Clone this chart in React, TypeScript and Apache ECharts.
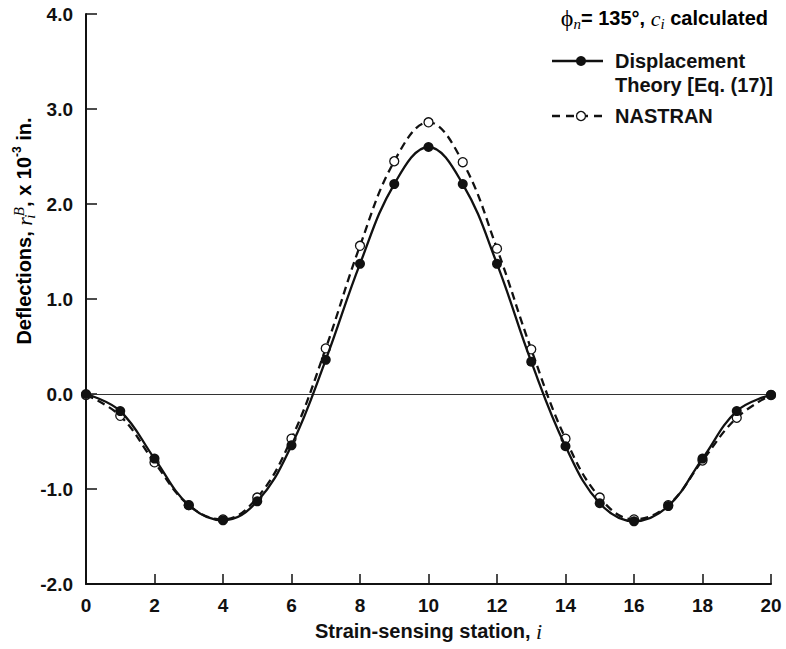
import React, { useEffect, useRef } from "react";
import * as echarts from "echarts";

const stations = [0, 1, 2, 3, 4, 5, 6, 7, 8, 9, 10, 11, 12, 13, 14, 15, 16, 17, 18, 19, 20];
const displacementTheory = [0.0, -0.18, -0.68, -1.17, -1.33, -1.13, -0.54, 0.36, 1.37, 2.21, 2.6, 2.21, 1.37, 0.34, -0.55, -1.15, -1.34, -1.18, -0.68, -0.18, -0.01];
const nastran = [-0.01, -0.23, -0.72, -1.17, -1.32, -1.09, -0.47, 0.48, 1.56, 2.45, 2.86, 2.44, 1.53, 0.47, -0.47, -1.09, -1.32, -1.17, -0.7, -0.25, -0.01];

const xTicks = { min: 0, max: 20, interval: 2 };
const yTicks = { min: -2, max: 4, interval: 1 };

const SANS = "'Liberation Sans', Arial, Helvetica, sans-serif";
const SERIF = "'Liberation Serif', 'Times New Roman', serif";
const INK = "#111";

export default function App() {
  const ref = useRef<HTMLDivElement>(null);

  useEffect(() => {
    document.body.style.margin = "0";
    if (!ref.current) return;
    const chart = echarts.init(ref.current, undefined, { renderer: "svg" });

    const bold = { fontFamily: SANS, fontWeight: "bold", fontSize: 20, color: INK, lineHeight: 26 };
    const ital = { fontFamily: SERIF, fontStyle: "italic", fontSize: 22, color: INK, lineHeight: 26 };
    const subI = { fontFamily: SERIF, fontStyle: "italic", fontSize: 15, color: INK, lineHeight: 15, verticalAlign: "bottom" };
    const supI = { fontFamily: SERIF, fontStyle: "italic", fontSize: 15, color: INK, lineHeight: 15, verticalAlign: "top" };
    const supB = { fontFamily: SANS, fontWeight: "bold", fontSize: 12, color: INK, lineHeight: 12, verticalAlign: "top" };

    const option: any = {
      animation: false,
      backgroundColor: "#fff",
      grid: { left: 86, right: 15, top: 14, bottom: 65, containLabel: false },
      xAxis: {
        type: "value",
        min: xTicks.min,
        max: xTicks.max,
        interval: xTicks.interval,
        name: "{b|Strain-sensing station, }{it|i}",
        nameLocation: "middle",
        nameGap: 34,
        nameTextStyle: { rich: { b: bold, it: ital } },
        axisLine: { show: true, onZero: false, lineStyle: { color: INK, width: 2 } },
        axisTick: { show: true, inside: true, length: 10, lineStyle: { color: INK, width: 1.5 } },
        axisLabel: { fontFamily: SANS, fontWeight: "bold", fontSize: 19, color: INK, margin: 12 },
        splitLine: { show: false },
      },
      yAxis: {
        type: "value",
        min: yTicks.min,
        max: yTicks.max,
        interval: yTicks.interval,
        axisLine: { show: true, onZero: false, lineStyle: { color: INK, width: 2 } },
        axisTick: { show: true, inside: true, length: 11, lineStyle: { color: INK, width: 1.5 } },
        axisLabel: {
          fontFamily: SANS,
          fontWeight: "bold",
          fontSize: 19,
          color: INK,
          margin: 13,
          formatter: (v: number) => v.toFixed(1),
        },
        splitLine: { show: false },
      },
      graphic: [
        {
          type: "text",
          x: 24,
          y: 231,
          rotation: Math.PI / 2,
          style: {
            text: "{b|Deflections, }{it|r}{sub|i}{sup|B}{b|, x 10}{sup2|-3}{b| in.}",
            align: "center",
            verticalAlign: "middle",
            rich: {
              b: bold,
              it: ital,
              sub: { ...subI, width: 1 },
              sup: supI,
              sup2: supB,
            },
          },
        },
        {
          type: "text",
          x: 768,
          y: 18,
          style: {
            text: "{phi|ϕ}{sub|n}{b|= 135°, }{it|c}{sub|i}{b| calculated}",
            align: "right",
            verticalAlign: "middle",
            rich: {
              phi: { fontFamily: SERIF, fontSize: 24, color: INK, lineHeight: 26 },
              sub: subI,
              b: bold,
              it: ital,
            },
          },
        },
        {
          type: "line",
          shape: { x1: 552, y1: 61, x2: 603, y2: 61 },
          style: { stroke: INK, lineWidth: 2.3 },
        },
        { type: "circle", shape: { cx: 581, cy: 61, r: 5 }, style: { fill: INK } },
        {
          type: "text",
          x: 615,
          y: 61,
          style: { text: "Displacement", font: `bold 20px ${SANS}`, fill: INK, verticalAlign: "middle" },
        },
        {
          type: "text",
          x: 615,
          y: 85,
          style: { text: "Theory [Eq. (17)]", font: `bold 20px ${SANS}`, fill: INK, verticalAlign: "middle" },
        },
        {
          type: "line",
          shape: { x1: 552, y1: 116, x2: 603, y2: 116 },
          style: { stroke: INK, lineWidth: 2.3, lineDash: [8, 6] },
        },
        { type: "circle", shape: { cx: 581, cy: 116, r: 4.5 }, style: { fill: "#fff", stroke: INK, lineWidth: 1.3 } },
        {
          type: "text",
          x: 615,
          y: 116,
          style: { text: "NASTRAN", font: `bold 20px ${SANS}`, fill: INK, verticalAlign: "middle" },
        },
      ],
      series: [
        {
          name: "NASTRAN",
          type: "line",
          smooth: 0.4,
          z: 2,
          data: stations.map((s, i) => [s, nastran[i]]),
          symbol: "circle",
          symbolSize: 9,
          itemStyle: { color: "#fff", borderColor: INK, borderWidth: 1.3 },
          lineStyle: { color: INK, width: 2.3, type: [8, 5] },
          markLine: {
            silent: true,
            symbol: ["none", "none"],
            label: { show: false },
            lineStyle: { color: "#333", width: 1, type: "solid" },
            data: [{ yAxis: 0 }],
            z: 1,
          },
        },
        {
          name: "Displacement Theory [Eq. (17)]",
          type: "line",
          smooth: 0.4,
          z: 3,
          data: stations.map((s, i) => [s, displacementTheory[i]]),
          symbol: "circle",
          symbolSize: 10,
          itemStyle: { color: INK },
          lineStyle: { color: INK, width: 2.3, type: "solid" },
        },
      ],
    };

    chart.setOption(option);
    return () => chart.dispose();
  }, []);

  return <div ref={ref} style={{ width: 786, height: 649 }} />;
}
